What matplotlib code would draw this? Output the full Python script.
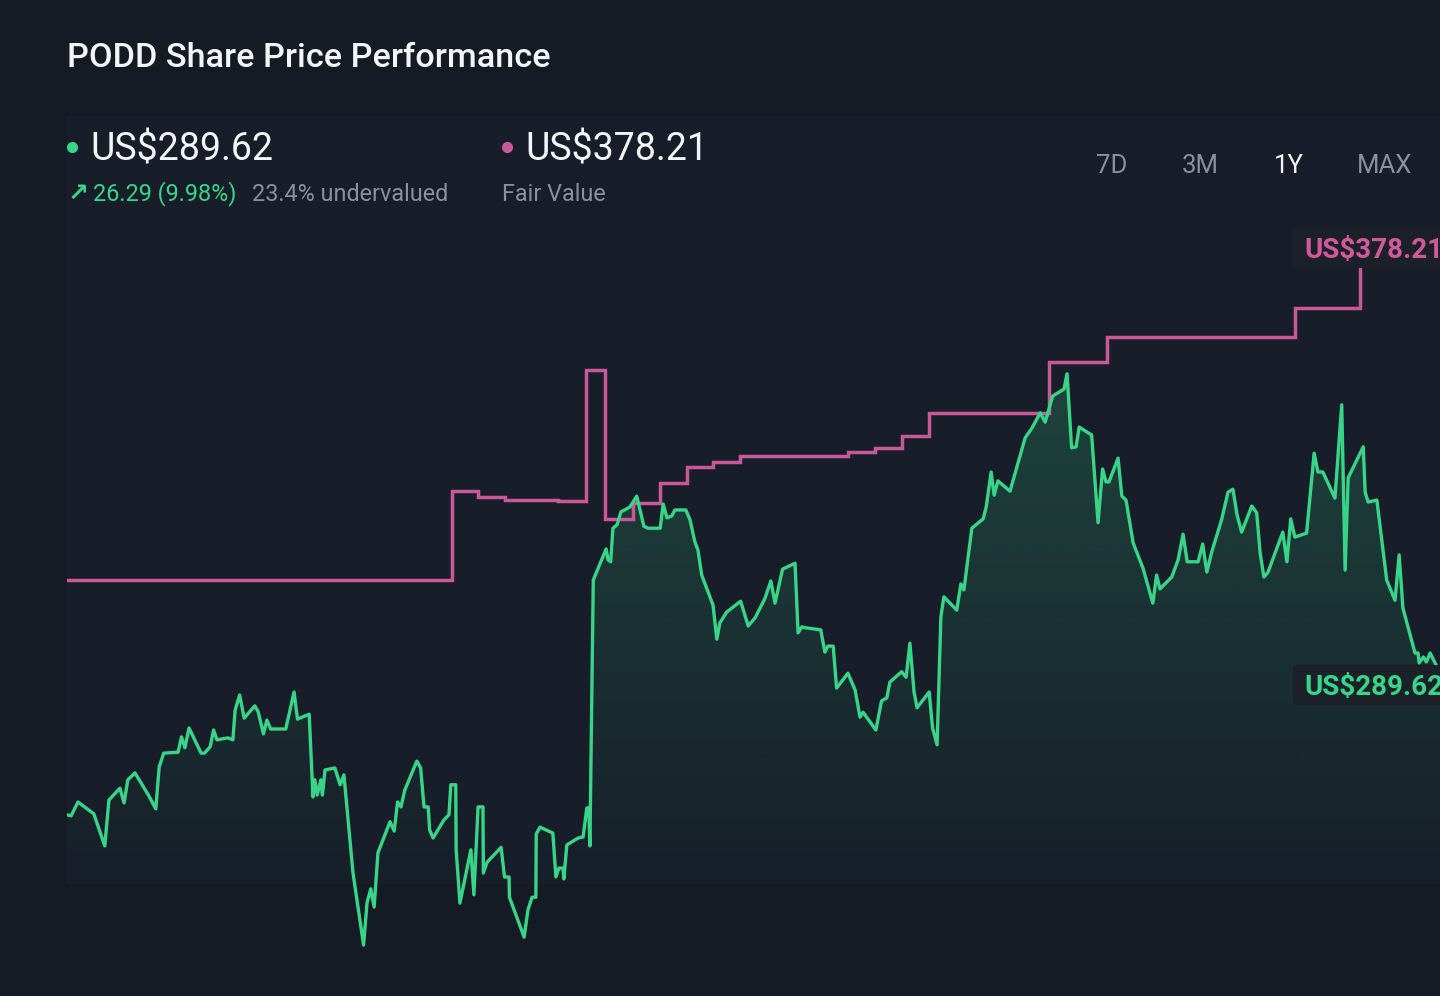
import numpy as np
import matplotlib
matplotlib.use("Agg")
import matplotlib.pyplot as plt
from matplotlib.patches import FancyBboxPatch, Rectangle
from matplotlib.lines import Line2D

# ---------------- data ----------------
price_days = [0, 1.1, 2.9, 7.1, 10.0, 11.1, 14.0, 15.1, 16.1, 18.0, 21.7, 23.5, 24.4, 25.6, 29.4,
              30.3, 31.2, 32.3, 35.5, 36.4, 37.9, 38.8, 39.7, 42.6, 43.9, 44.5, 45.7, 46.9, 49.7,
              50.6, 52.0, 52.9, 53.9, 57.9, 59.0, 60.1, 61.0, 64.1, 65.1, 65.6, 66.2, 67.2, 67.6,
              68.3, 70.9, 72.3, 73.3, 75.7, 78.5, 79.4, 80.4, 81.3, 82.3, 85.5, 86.6, 87.5, 88.4,
              89.4, 92.6, 93.6, 94.5, 95.6, 96.0, 96.9, 99.8, 101.1, 101.6, 102.9, 103.0, 104.0,
              106.9, 107.7, 108.8, 110.1, 110.2, 111.2, 114.9, 115.8, 117.0, 117.1, 121.0, 122.0,
              123.1, 124.1, 124.2, 125.2, 128.6, 129.4, 130.2, 131.3, 131.5, 132.3, 135.3, 136.6,
              137.6, 138.1, 138.4, 139.3, 142.7, 143.2, 143.9, 144.5, 145.6, 146.6, 149.0, 150.8,
              152.7, 153.8, 157.0, 157.8, 158.8, 160.1, 160.9, 163.8, 164.9, 166.2, 167.0, 168.0,
              171.0, 172.0, 172.8, 174.6, 178.3, 180.3, 182.1, 184.7, 186.3, 187.4, 189.4, 192.7,
              193.5, 194.5, 195.6, 199.5, 200.6, 201.4, 202.8, 203.7, 206.7, 208.6, 209.9, 210.7,
              214.1, 215.6, 217.0, 217.8, 220.9, 222.1, 223.1, 224.2, 225.0, 228.2, 229.1, 230.3,
              231.3, 232.1, 235.5, 236.6, 237.4, 239.5, 242.5, 243.3, 244.6, 245.4, 246.4, 249.6,
              251.7, 253.6, 255.4, 257.6, 258.9, 260.9, 263.9, 264.7, 265.9, 267.1, 267.9, 271.2,
              272.9, 274.1, 275.0, 275.8, 278.2, 279.2, 280.3, 282.2, 284.8, 287.4, 288.4, 289.3,
              292.4, 294.1, 295.4, 296.5, 299.4, 300.6, 301.7, 303.0, 305.6, 307.3, 308.6, 309.7,
              310.9, 313.6, 314.9, 315.8, 316.8, 317.9, 321.8, 322.9, 323.9, 325.0, 328.1, 330.1,
              331.1, 332.4, 335.6, 337.4, 338.3, 339.1, 343.1, 343.6, 344.4, 346.7, 349.3, 351.5,
              352.6, 353.6, 356.8, 357.6, 357.9, 359.0, 359.8, 360.8, 365.0]
prices = [263.3, 263.1, 265.9, 263.5, 257.0, 266.3, 268.7, 265.7, 270.4, 271.8, 267.1, 264.5, 273.0,
          275.8, 276.0, 279.1, 276.9, 280.9, 275.8, 275.8, 277.1, 280.5, 278.5, 278.9, 278.5, 284.5,
          287.6, 282.9, 285.4, 284.2, 279.7, 282.5, 280.7, 280.7, 284.5, 288.2, 282.7, 283.7, 266.9,
          270.4, 267.3, 270.4, 267.3, 272.4, 272.8, 269.4, 271.4, 251.5, 236.9, 245.4, 248.3, 244.6,
          255.6, 261.9, 260.0, 265.9, 264.9, 268.3, 274.2, 272.8, 264.9, 264.9, 260.2, 258.6, 262.3,
          263.3, 269.4, 269.4, 256.2, 245.4, 256.2, 247.1, 264.9, 264.9, 251.5, 253.7, 256.7, 250.7,
          250.7, 246.6, 238.5, 244.0, 246.6, 246.6, 259.4, 260.8, 259.6, 250.7, 252.5, 252.5, 250.3,
          257.2, 258.6, 258.8, 264.7, 264.7, 257.0, 310.9, 317.2, 315.0, 314.6, 321.4, 322.1, 324.7,
          325.7, 327.9, 321.8, 321.4, 321.4, 326.3, 323.5, 323.9, 325.1, 325.1, 323.1, 318.6, 317.0,
          311.9, 305.8, 298.9, 302.2, 304.4, 306.6, 301.6, 303.2, 307.1, 310.7, 306.2, 313.1, 314.3,
          300.2, 301.4, 301.2, 300.8, 296.3, 297.5, 297.5, 289.0, 292.0, 288.6, 283.1, 284.1, 280.5,
          286.4, 287.0, 290.2, 292.3, 291.2, 298.1, 288.2, 285.0, 288.2, 280.9, 277.5, 303.4, 307.5,
          304.8, 310.1, 308.9, 321.4, 323.3, 325.7, 332.8, 328.1, 331.0, 328.9, 334.6, 339.7, 341.7,
          344.8, 342.9, 348.2, 349.6, 352.7, 337.7, 337.9, 341.9, 340.3, 322.5, 333.4, 330.8, 330.8,
          335.6, 327.9, 327.1, 318.4, 313.3, 306.2, 311.9, 309.1, 311.5, 315.0, 320.2, 314.6, 314.6,
          318.2, 312.5, 316.6, 323.1, 328.7, 329.3, 324.1, 320.6, 325.9, 324.5, 316.4, 311.5, 312.5,
          320.6, 314.6, 323.3, 319.6, 320.4, 336.6, 332.8, 332.8, 327.5, 346.4, 312.9, 331.6, 337.9,
          328.7, 326.7, 327.1, 310.9, 306.8, 316.0, 305.2, 296.1, 296.1, 294.1, 295.3, 294.3, 296.1,
          289.62]

fv_days = [0, 101.9, 108.8, 115.9, 130.0, 137.5, 142.4, 149.8, 157.0, 164.0, 171.0, 178.1,
           206.7, 213.9, 221.0, 228.2, 259.8, 275.2, 325.0, 342.3, 365.0]
fv_values = [310.9, 328.9, 327.7, 327.1, 326.9, 353.5, 323.3, 326.5, 330.6, 333.8, 334.8, 336.0,
             336.8, 337.7, 340.1, 344.8, 355.1, 360.2, 366.0, 378.21, 378.21]

title = "PODD Share Price Performance"
current_price = "US$289.62"
fair_value = "US$378.21"
change_text = "26.29 (9.98%)"
valuation_text = "23.4% undervalued"
fv_caption = "Fair Value"
ranges = ["7D", "3M", "1Y", "MAX"]
active_range = "1Y"

# ---------------- style ----------------
W, H = 1440, 996
BG = "#151b25"
PANEL = "#171e29"
GREEN = "#38d588"
PINK = "#c9589a"
GREY = "#8b9099"
WHITE = "#f4f5f7"
FONT = ["Roboto", "DejaVu Sans"]
plt.rcParams["font.family"] = FONT

fig = plt.figure(figsize=(W / 100, H / 100), dpi=100, facecolor=BG)


def fx(px):
    return px / W


def fy(py):
    return 1 - py / H


# subtle chart panel
fig.add_artist(Rectangle((fx(66), fy(884)), fx(W - 66), (884 - 116) / H,
                         transform=fig.transFigure, facecolor=PANEL, edgecolor="none", zorder=0))

# axes: data area spans px 67..1446 horizontally, px 220..960 vertically
ymin, ymax = 233.87, 383.88
ax = fig.add_axes([fx(67), fy(960), (1446 - 67) / W, 740 / H])
ax.set_facecolor("none")
ax.set_xlim(0, 365)
ax.set_ylim(ymin, ymax)
ax.axis("off")

# gradient fill under price
poly = ax.fill_between(price_days, prices, ymin, color="none", lw=0)
grad = np.zeros((256, 1, 4))
rgb = matplotlib.colors.to_rgb(GREEN)
grad[:, 0, 0:3] = rgb
grad[:, 0, 3] = np.linspace(0.0, 0.21, 256)
im = ax.imshow(grad, extent=[0, 365, ymin + 12, ymax - 30], origin="lower", aspect="auto",
               zorder=1, interpolation="bilinear")
im.set_clip_path(poly.get_paths()[0], transform=ax.transData)
ax.set_xlim(0, 365)
ax.set_ylim(ymin, ymax)

# lines
ax.step(fv_days, fv_values, where="post", color=PINK, lw=2.5, zorder=3,
        solid_joinstyle="miter")
ax.plot(price_days, prices, color=GREEN, lw=2.4, zorder=4, solid_joinstyle="round")

# ---------------- texts ----------------
fig.text(fx(67), fy(67), title, color=WHITE, fontsize=24.7, fontweight="medium",
         va="baseline", ha="left")

fig.add_artist(Line2D([fx(72)], [fy(147)], marker="o", ms=7, color=GREEN, transform=fig.transFigure))
fig.text(fx(90), fy(160), current_price, color=WHITE, fontsize=27, va="baseline", ha="left")
fig.text(fx(68), fy(200.5), "\u2197", color=GREEN, fontsize=18, va="baseline", ha="left",
         family=["DejaVu Sans"], fontweight="bold")
fig.text(fx(93), fy(200.5), change_text, color=GREEN, fontsize=16.8, va="baseline", ha="left")
fig.text(fx(252), fy(200.5), valuation_text, color=GREY, fontsize=16.8, va="baseline", ha="left")

fig.add_artist(Line2D([fx(507)], [fy(147)], marker="o", ms=7, color=PINK, transform=fig.transFigure))
fig.text(fx(525), fy(160), fair_value, color=WHITE, fontsize=27, va="baseline", ha="left")
fig.text(fx(502), fy(200.5), fv_caption, color=GREY, fontsize=16.8, va="baseline", ha="left")

range_x = [1112, 1200, 1289, 1385]
for lab, xc in zip(ranges, range_x):
    fig.text(fx(xc), fy(173), lab, color=WHITE if lab == active_range else GREY,
             fontsize=18.5, va="baseline", ha="center")

# end labels (partly cut by the right edge, as in the reference)
for txt, col, top, base in [(fair_value, "#d2589c", 228, 258), (current_price, GREEN, 665, 695)]:
    fig.add_artist(FancyBboxPatch((fx(1293), fy(top + 40)), fx(200), 40 / H,
                                  boxstyle="round,pad=0,rounding_size=0.004",
                                  transform=fig.transFigure, facecolor="#1c2029",
                                  edgecolor="none", zorder=5))
    fig.text(fx(1304), fy(base), txt, color=col, fontsize=20, fontweight="bold",
             va="baseline", ha="left", zorder=6)

fig.savefig("out.png", dpi=100, facecolor=BG)
